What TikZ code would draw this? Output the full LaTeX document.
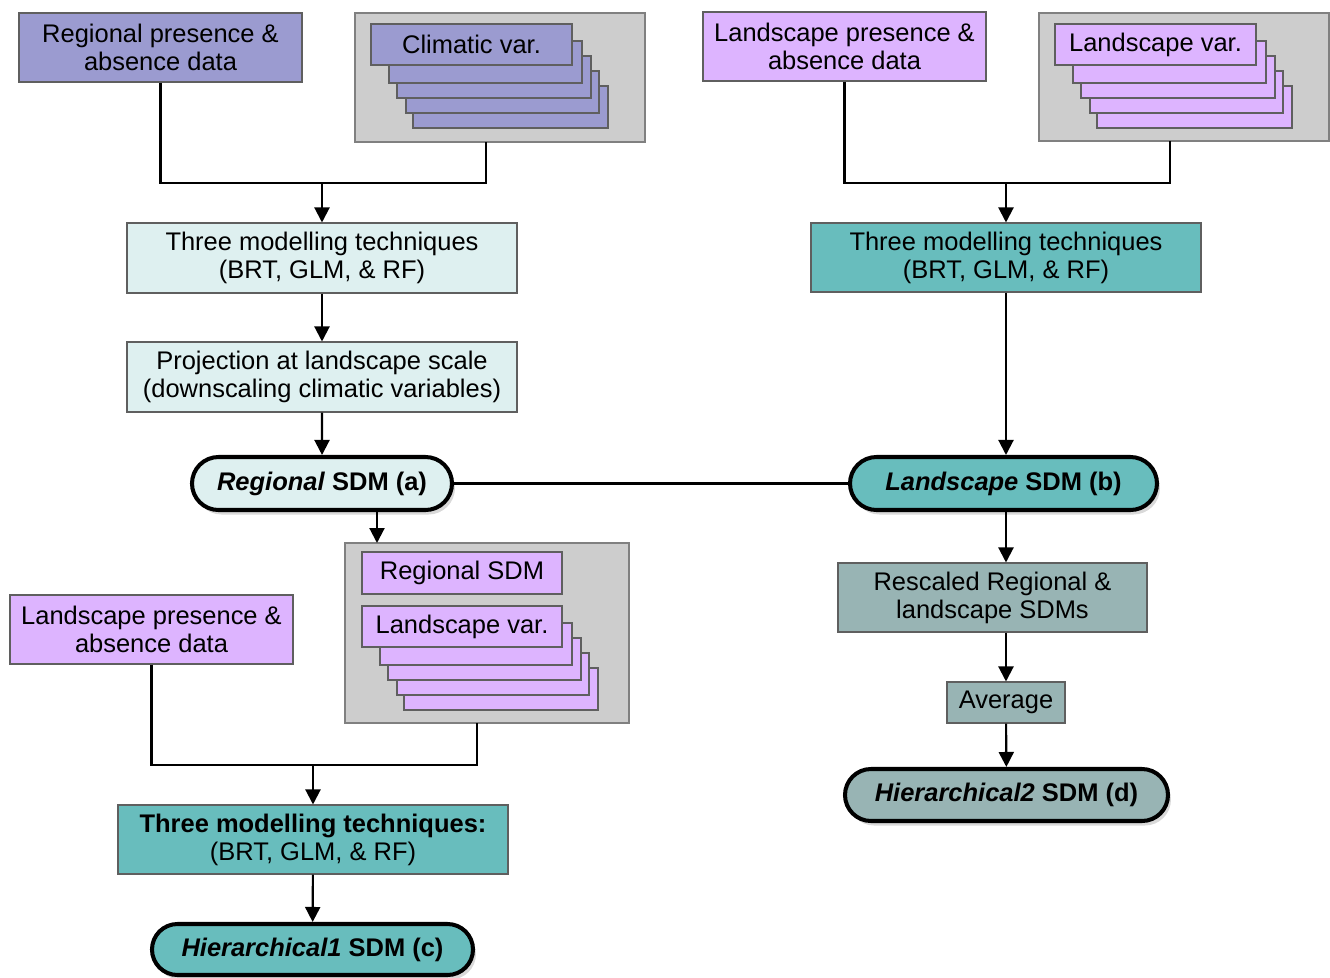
\documentclass[tikz,border=0pt]{standalone}
\usepackage{fontspec}
\setmainfont{Liberation Sans}
\usepackage{tikz}
\usetikzlibrary{positioning, arrows.meta, calc, shapes.misc, shadows}

\definecolor{climfill}{RGB}{155,155,208}
\definecolor{landfill}{RGB}{221,180,255}
\definecolor{palecyan}{RGB}{222,240,240}
\definecolor{tealfill}{RGB}{104,189,189}
\definecolor{greyteal}{RGB}{152,180,180}
\definecolor{panelgrey}{RGB}{205,205,205}
\definecolor{edgegrey}{RGB}{95,95,95}

\def\px{0.02cm}

% stack of cards behind a front card: x1, y1, x2, colour
\def\cardstack#1#2#3#4{%
    \foreach \dl/\dr/\dt in {42/36/62, 35/27/47, 26/19/32, 18/10/17}
    {
        \draw[cardline, fill=#4] (#1+\dl, #2+\dt) rectangle (#3+\dr, #2+\dt+42);
    }
}

\tikzset{
    txt/.style={font=\fontsize{14.5}{16}\selectfont, align=center, inner sep=0pt},
    box/.style={txt, draw=edgegrey, line width=0.6pt},
    panel/.style={draw=gray, line width=0.6pt, fill=panelgrey, inner sep=0pt},
    cardline/.style={draw=edgegrey, line width=0.6pt},
    pill/.style={rounded rectangle, draw=black, line width=2.3pt, inner sep=0pt,
        font=\fontsize{14.5}{16}\selectfont\bfseries,
        drop shadow={shadow xshift=0.6mm, shadow yshift=-0.9mm, opacity=0.3}},
    link/.style={line width=1.2pt},
    arr/.style={link, -{Triangle[length=0.3cm, width=0.3cm]}}
}

\begin{document}
\begin{tikzpicture}[x=0.02cm, y=-0.02cm]
    \useasboundingbox (0,0) rectangle (1330,978);

    % top left: regional data
    \node[box, fill=climfill, minimum width=283*\px, minimum height=69*\px]
        (regpres) at (160.5,47.5) {Regional presence \&\\absence data};
    \node[panel, minimum width=290*\px, minimum height=129*\px] (climpanel) at (500,77.5) {};
    \cardstack{371}{24}{572}{climfill}
    \node[box, fill=climfill, minimum width=201*\px, minimum height=41*\px]
        (climcard) at (471.5,44.5) {Climatic var.};

    % top right: landscape data
    \node[box, fill=landfill, minimum width=283*\px, minimum height=69*\px]
        (landpres) at (844.5,46.5) {Landscape presence \&\\absence data};
    \node[panel, minimum width=290*\px, minimum height=128*\px] (landpanel) at (1184,77) {};
    \cardstack{1055}{24}{1256}{landfill}
    \node[box, fill=landfill, minimum width=201*\px, minimum height=41*\px]
        (landcard) at (1155.5,44.5) {Landscape var.};

    % regional branch
    \node[box, fill=palecyan, minimum width=390*\px, minimum height=70*\px]
        (techa) at (322,258) {Three modelling techniques\\(BRT, GLM, \& RF)};
    \node[box, fill=palecyan, minimum width=390*\px, minimum height=70*\px]
        (proj) at (322,377) {Projection at landscape scale\\(downscaling climatic variables)};
    \node[pill, fill=palecyan, minimum width=260*\px, minimum height=53*\px]
        (rega) at (322,483.5) {\textit{Regional} SDM (a)};

    % landscape branch
    \node[box, fill=tealfill, minimum width=390*\px, minimum height=69*\px]
        (techb) at (1006,257.5) {Three modelling techniques\\(BRT, GLM, \& RF)};
    \node[pill, fill=tealfill, minimum width=307*\px, minimum height=53*\px]
        (landb) at (1003.5,483.5) {\textit{Landscape} SDM (b)};

    % hierarchical 1
    \node[panel, minimum width=284*\px, minimum height=180*\px] (hierpanel) at (487,633) {};
    \node[box, fill=landfill, minimum width=200*\px, minimum height=42*\px]
        (regcard) at (462,573) {Regional SDM};
    \cardstack{362}{606}{562}{landfill}
    \node[box, fill=landfill, minimum width=200*\px, minimum height=41*\px]
        (landcardc) at (462,626.5) {Landscape var.};
    \node[box, fill=landfill, minimum width=283*\px, minimum height=69*\px]
        (landpresc) at (151.5,629.5) {Landscape presence \&\\absence data};
    \node[box, fill=tealfill, minimum width=390*\px, minimum height=69*\px]
        (techc) at (313,839.5) {\textbf{Three modelling techniques:}\\(BRT, GLM, \& RF)};
    \node[pill, fill=tealfill, minimum width=321*\px, minimum height=51*\px]
        (hierc) at (312.5,949.5) {\textit{Hierarchical1} SDM (c)};

    % hierarchical 2
    \node[box, fill=greyteal, minimum width=309*\px, minimum height=69*\px]
        (rescaled) at (992.5,597.5) {Rescaled Regional \&\\landscape SDMs};
    \node[box, fill=greyteal, minimum width=118*\px, minimum height=41*\px]
        (average) at (1006,702.5) {Average};
    \node[pill, fill=greyteal, minimum width=323*\px, minimum height=52*\px]
        (hierd) at (1006.5,795) {\textit{Hierarchical2} SDM (d)};

    % joins
    \coordinate (joina) at (322,183);
    \coordinate (climfoot) at (486,142);
    \coordinate (joinb) at (1006,183);
    \coordinate (landfoot) at (1170,141);
    \coordinate (hiertop) at (377,543);
    \coordinate (joinc) at (313,765);
    \coordinate (hierfoot) at (477,723);

    % connectors
    \draw[link] (regpres.south) |- (joina) -| (climfoot);
    \draw[arr] (joina) -- (techa.north);
    \draw[arr] (techa) -- (proj);
    \draw[arr] (proj) -- (rega);

    \draw[link] (landpres.south) |- (joinb) -| (landfoot);
    \draw[arr] (joinb) -- (techb.north);
    \draw[arr] (techb) -- (techb |- landb.north);
    \draw[link] (rega.east) -- (landb.west);

    \draw[arr] (rega.south -| hiertop) -- (hiertop);
    \draw[link] (landpresc.south) |- (joinc) -| (hierfoot);
    \draw[arr] (joinc) -- (techc.north);
    \draw[arr] (techc) -- (hierc);

    \draw[arr] (landb.south -| average) -- (rescaled.north -| average);
    \draw[arr] (rescaled.south -| average) -- (average);
    \draw[arr] (average) -- (hierd);
\end{tikzpicture}
\end{document}
